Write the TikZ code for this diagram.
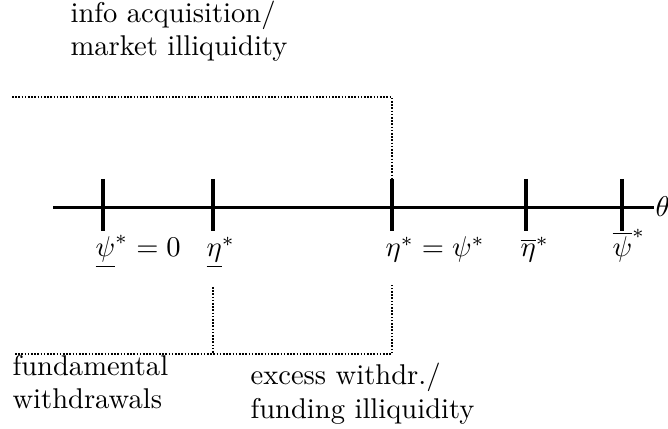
\documentclass[tikz,border=0pt]{standalone}
\begin{document}
\begin{tikzpicture}[x=0.35pt,y={(0pt,-0.35pt)},
  lbl/.style={anchor=base west,inner sep=0pt,font=\fontsize{10}{11.6}\selectfont},
  txt/.style={anchor=base west,inner sep=0pt,align=left,font=\fontsize{10}{11.6}\selectfont},
  axisline/.style={line width=1.05pt},
  tickline/.style={line width=1.26pt},
  dotline/.style={line width=0.63pt,dash pattern=on 0.56pt off 0.56pt}]
\useasboundingbox (0,0) rectangle (668,429);
% axis
\coordinate (a0) at (53,208);
\coordinate (a1) at (654,208);
\draw[axisline] (a0) -- (a1);
\node[lbl] (theta) at (655,217) {$\theta$};
% ticks
\foreach \n/\x in {t1/103,t2/213,t3/392,t4/526,t5/622}{
  \coordinate (\n top) at (\x,179);
  \coordinate (\n bot) at (\x,231);
  \draw[tickline] (\n top) -- (\n bot);
}
% labels
\node[lbl] (l1) at (95,257) {$\underline{\psi}^{*}=0$};
\node[lbl] (l2) at (206,257) {$\underline{\eta}^{*}$};
\node[lbl] (l3) at (385,257) {$\eta^{*}=\psi^{*}$};
\node[lbl] (l4) at (520,257) {$\overline{\eta}^{*}$};
\node[lbl] (l5) at (612,257) {$\overline{\psi}^{*}$};
% top dotted bracket
\coordinate (d1) at (12,97);
\coordinate (d2) at (392,97);
\draw[dotline] (d1) -- (d2) -- (t3top);
% bottom dotted bracket
\coordinate (b0) at (15,354);
\coordinate (b1) at (213,354);
\coordinate (b2) at (392,354);
\coordinate (b1t) at (213,287);
\coordinate (b2t) at (392,285);
\draw[dotline] (b0) -- (b2) -- (b2t);
\draw[dotline] (b1t) -- (b1);
% texts
\node[txt] (info) at (70,56) {info acquisition/\\market illiquidity};
\node[txt] (fund) at (12,409) {fundamental\\withdrawals};
\node[txt] (exc) at (250,418) {excess withdr./\\funding illiquidity};
\end{tikzpicture}
\end{document}
